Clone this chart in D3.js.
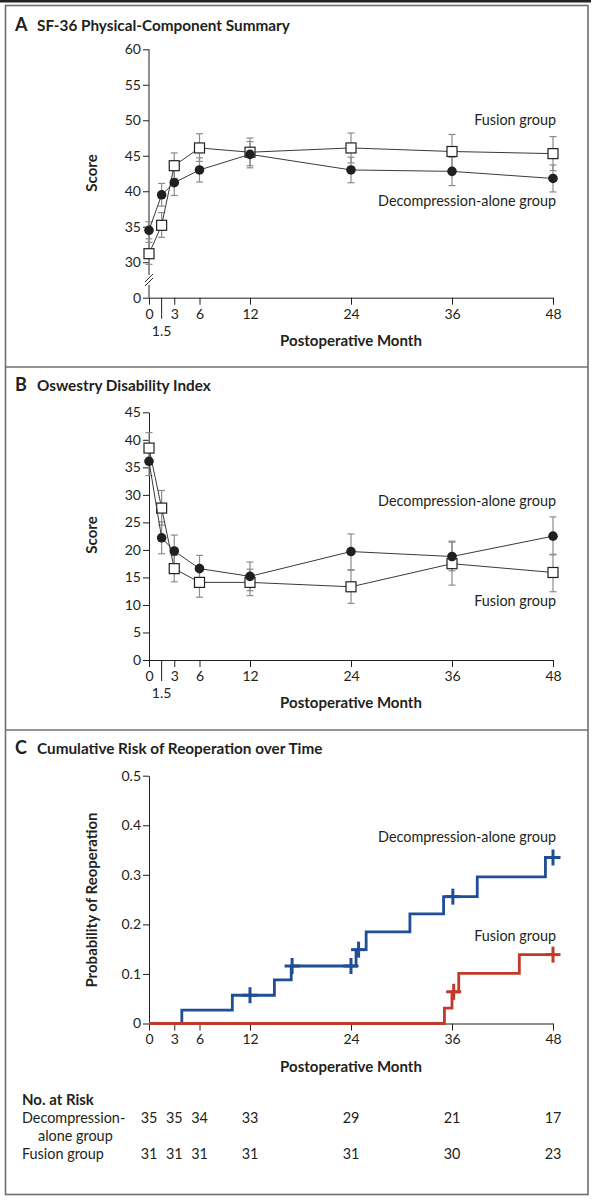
<!DOCTYPE html>
<html>
<head>
<meta charset="utf-8">
<script src="https://cdn.jsdelivr.net/npm/d3@7/dist/d3.min.js"></script>
<style>
    body { margin: 0; background: #fff; }
    text { font-family: Lato, "Liberation Sans", sans-serif; fill: #231f20; }
</style>
</head>
<body>
<div id="chart-area"></div>
<script>
// visit months shared by panels A and B
var months = [0, 1.5, 3, 6, 12, 24, 36, 48];
var monthTicks = [0, 3, 6, 12, 24, 36, 48];

// Panel A: SF-36 physical-component summary (mean with error bar ends)
var sfDecompMean = [34.5, 39.5, 41.2, 43.0, 45.2, 43.0, 42.8, 41.8];
var sfDecompLow = [33.3, 37.9, 39.4, 41.3, 43.3, 41.2, 40.8, 39.9];
var sfDecompHigh = [35.7, 41.1, 43.0, 44.7, 47.0, 44.8, 44.8, 43.7];
var sfFusionMean = [31.2, 35.2, 43.6, 46.1, 45.5, 46.1, 45.6, 45.3];
var sfFusionLow = [29.7, 33.5, 41.8, 44.2, 43.6, 44.0, 43.2, 42.9];
var sfFusionHigh = [32.8, 37.0, 45.4, 48.1, 47.5, 48.2, 48.0, 47.7];
var sfTicks = [25, 30, 35, 40, 45, 50, 55, 60]; // 25 sits below the break and reads "0"

// Panel B: Oswestry disability index
var odiDecompMean = [36.1, 22.2, 19.8, 16.6, 15.2, 19.7, 18.8, 22.5];
var odiDecompLow = [33.5, 19.3, 17.0, 14.1, 12.6, 16.4, 16.2, 19.1];
var odiDecompHigh = [38.6, 25.1, 22.7, 19.0, 17.8, 22.9, 21.6, 26.0];
var odiFusionMean = [38.5, 27.6, 16.6, 14.1, 14.1, 13.3, 17.5, 15.9];
var odiFusionLow = [35.7, 24.5, 14.2, 11.4, 11.7, 10.3, 13.6, 12.4];
var odiFusionHigh = [41.3, 30.8, 19.0, 16.9, 16.5, 16.3, 21.4, 19.2];
var odiTicks = [0, 5, 10, 15, 20, 25, 30, 35, 40, 45];

// Panel C: cumulative risk of reoperation (step starts)
var kmDecompTime = [0, 3.9, 9.9, 14.9, 16.9, 24.6, 25.8, 31.0, 35.0, 39.0, 47.1, 48];
var kmDecompRisk = [0, 0.027, 0.057, 0.088, 0.116, 0.149, 0.185, 0.221, 0.256, 0.296, 0.335, 0.335];
var kmDecompCensor = [12, 17, 24, 24.9, 36.1, 48];
var kmFusionTime = [0, 35.1, 36.0, 36.8, 44.0, 48];
var kmFusionRisk = [0, 0.031, 0.064, 0.101, 0.139, 0.139];
var kmFusionCensor = [36.2, 48];
var kmTicks = [0, 0.1, 0.2, 0.3, 0.4, 0.5];

// number at risk table
var riskMonths = [0, 3, 6, 12, 24, 36, 48];
var riskDecomp = [35, 35, 34, 33, 29, 21, 17];
var riskFusion = [31, 31, 31, 31, 31, 30, 23];

var blue = "#1f4e96";
var red = "#c3392a";
var tickFont = 14;
var labelFont = 14.4;

var chart = d3.select("#chart-area")
    .append("svg")
    .attr("width", 600)
    .attr("height", 1201);

chart.append("rect")
    .attr("width", 600)
    .attr("height", 1201)
    .attr("fill", "#fff");

// frame and panel separators
chart.append("line")
    .attr("x1", 0).attr("x2", 591)
    .attr("y1", 1.2).attr("y2", 1.2)
    .attr("stroke", "#222").attr("stroke-width", 2.5);
chart.append("rect")
    .attr("x", 5.5).attr("y", 5.5)
    .attr("width", 582.5).attr("height", 1189)
    .attr("fill", "none")
    .attr("stroke", "#6f6f6f")
    .attr("stroke-width", 1.6);
[367, 730].forEach(function (y) {
    chart.append("line")
        .attr("x1", 5).attr("x2", 588)
        .attr("y1", y).attr("y2", y)
        .attr("stroke", "#6f6f6f")
        .attr("stroke-width", 1.6);
});

var x = d3.scaleLinear().domain([0, 48]).range([149, 553]);

function addTitle(letter, title, y) {
    chart.append("text")
        .attr("x", 15).attr("y", y)
        .attr("font-size", 18).attr("font-weight", "bold")
        .text(letter);
    chart.append("text")
        .attr("x", 37).attr("y", y)
        .attr("font-size", 15.3).attr("font-weight", "bold")
        .text(title);
}

function styleAxis(g) {
    g.selectAll("line").attr("stroke", "#231f20");
    g.selectAll("path").attr("stroke", "#231f20");
    g.selectAll("text")
        .attr("font-size", tickFont)
        .attr("font-family", "Lato, 'Liberation Sans', sans-serif")
        .attr("fill", "#231f20");
}

function drawXAxis(axisY, withHalf) {
    var g = chart.append("g")
        .attr("transform", "translate(0," + axisY + ")")
        .call(d3.axisBottom(x).tickValues(monthTicks).tickSize(7).tickSizeOuter(0).tickPadding(4));
    styleAxis(g);
    if (withHalf) {
        // the 1.5-month visit has a long tick with its label below the others
        g.append("line")
            .attr("x1", x(1.5)).attr("x2", x(1.5))
            .attr("y1", 0).attr("y2", 21)
            .attr("stroke", "#231f20");
        g.append("text")
            .attr("x", x(1.5)).attr("y", 38)
            .attr("text-anchor", "middle")
            .attr("font-size", tickFont)
            .text("1.5");
    }
    chart.append("text")
        .attr("x", x(24)).attr("y", axisY + 48)
        .attr("text-anchor", "middle")
        .attr("font-size", 15).attr("font-weight", "bold")
        .text("Postoperative Month");
}

function drawYTitle(label, cy) {
    chart.append("text")
        .attr("transform", "translate(97," + cy + ") rotate(-90)")
        .attr("text-anchor", "middle")
        .attr("font-size", 15).attr("font-weight", "bold")
        .text(label);
}

function drawErrorBars(y, lows, highs) {
    var g = chart.append("g");
    months.forEach(function (m, i) {
        g.append("line")
            .attr("x1", x(m)).attr("x2", x(m))
            .attr("y1", y(lows[i])).attr("y2", y(highs[i]))
            .attr("stroke", "#8c8c8c").attr("stroke-width", 1.2);
        [lows[i], highs[i]].forEach(function (v) {
            g.append("line")
                .attr("x1", x(m) - 3.5).attr("x2", x(m) + 3.5)
                .attr("y1", y(v)).attr("y2", y(v))
                .attr("stroke", "#8c8c8c").attr("stroke-width", 1.2);
        });
    });
}

function drawLineAndMarkers(y, means, shape) {
    var line = d3.line()
        .x(function (d, i) { return x(months[i]); })
        .y(function (d) { return y(d); });
    chart.append("path")
        .attr("d", line(means))
        .attr("fill", "none")
        .attr("stroke", "#3a3a3a")
        .attr("stroke-width", 1);
    var g = chart.append("g");
    if (shape === "square") {
        g.selectAll("rect")
            .data(means)
            .enter().append("rect")
            .attr("x", function (d, i) { return x(months[i]) - 5; })
            .attr("y", function (d) { return y(d) - 5; })
            .attr("width", 10).attr("height", 10)
            .attr("fill", "#fff")
            .attr("stroke", "#231f20")
            .attr("stroke-width", 1.2);
    } else {
        g.selectAll("circle")
            .data(means)
            .enter().append("circle")
            .attr("cx", function (d, i) { return x(months[i]); })
            .attr("cy", function (d) { return y(d); })
            .attr("r", 4.8)
            .attr("fill", "#231f20");
    }
}

function groupLabel(text, baseline) {
    chart.append("text")
        .attr("x", 556).attr("y", baseline)
        .attr("text-anchor", "end")
        .attr("font-size", labelFont)
        .text(text);
}

// ---------- Panel A ----------
addTitle("A", "SF-36 Physical-Component Summary", 31);
var yA = d3.scaleLinear().domain([25, 60]).range([297.7, 49.3]);
var axisA = chart.append("g")
    .attr("transform", "translate(149,0)")
    .call(d3.axisLeft(yA).tickValues(sfTicks).tickSize(6).tickPadding(2)
        .tickFormat(function (d) { return d === 25 ? "0" : d; }));
axisA.select(".domain").remove();
styleAxis(axisA);
// axis line with a break between 30 and 0
axisA.append("line")
    .attr("x1", 0).attr("x2", 0)
    .attr("y1", yA(60)).attr("y2", yA(28.2))
    .attr("stroke", "#231f20");
axisA.append("line")
    .attr("x1", 0).attr("x2", 0)
    .attr("y1", yA(26.8)).attr("y2", yA(25))
    .attr("stroke", "#231f20");
[-2, 2].forEach(function (dy) {
    axisA.append("line")
        .attr("x1", -4).attr("x2", 4)
        .attr("y1", yA(27.5) + dy + 4).attr("y2", yA(27.5) + dy - 4)
        .attr("stroke", "#231f20");
});
drawXAxis(297.7, true);
drawYTitle("Score", 173);
drawErrorBars(yA, sfDecompLow, sfDecompHigh);
drawErrorBars(yA, sfFusionLow, sfFusionHigh);
drawLineAndMarkers(yA, sfFusionMean, "square");
drawLineAndMarkers(yA, sfDecompMean, "circle");
groupLabel("Fusion group", 125);
groupLabel("Decompression-alone group", 206);

// ---------- Panel B ----------
addTitle("B", "Oswestry Disability Index", 391);
var yB = d3.scaleLinear().domain([0, 45]).range([660, 412.3]);
var axisB = chart.append("g")
    .attr("transform", "translate(149,0)")
    .call(d3.axisLeft(yB).tickValues(odiTicks).tickSize(6).tickSizeOuter(0).tickPadding(2));
styleAxis(axisB);
drawXAxis(660, true);
drawYTitle("Score", 535);
drawErrorBars(yB, odiDecompLow, odiDecompHigh);
drawErrorBars(yB, odiFusionLow, odiFusionHigh);
drawLineAndMarkers(yB, odiFusionMean, "square");
drawLineAndMarkers(yB, odiDecompMean, "circle");
groupLabel("Decompression-alone group", 506);
groupLabel("Fusion group", 606);

// ---------- Panel C ----------
addTitle("C", "Cumulative Risk of Reoperation over Time", 754);
var yC = d3.scaleLinear().domain([0, 0.5]).range([1023.5, 775.7]);
var axisC = chart.append("g")
    .attr("transform", "translate(149,0)")
    .call(d3.axisLeft(yC).tickValues(kmTicks).tickSize(6).tickSizeOuter(0).tickPadding(2)
        .tickFormat(function (d) { return d === 0 ? "0" : d3.format(".1f")(d); }));
styleAxis(axisC);
drawXAxis(1023.5, false);
drawYTitle("Probability of Reoperation", 900);

function stepValue(times, risks, t) {
    var i = d3.bisectRight(times, t) - 1;
    return risks[Math.max(i, 0)];
}

function drawKM(times, risks, censors, color) {
    var step = d3.line()
        .curve(d3.curveStepAfter)
        .x(function (d, i) { return x(times[i]); })
        .y(function (d) { return yC(d); });
    chart.append("path")
        .attr("d", step(risks))
        .attr("fill", "none")
        .attr("stroke", color)
        .attr("stroke-width", 2.8);
    var g = chart.append("g");
    censors.forEach(function (t) {
        var cx = x(t);
        var cy = yC(stepValue(times, risks, t));
        g.append("line")
            .attr("x1", cx - 7.5).attr("x2", cx + 7.5)
            .attr("y1", cy).attr("y2", cy)
            .attr("stroke", color).attr("stroke-width", 3);
        g.append("line")
            .attr("x1", cx).attr("x2", cx)
            .attr("y1", cy - 8).attr("y2", cy + 8)
            .attr("stroke", color).attr("stroke-width", 3);
    });
}

drawKM(kmDecompTime, kmDecompRisk, kmDecompCensor, blue);
drawKM(kmFusionTime, kmFusionRisk, kmFusionCensor, red);
groupLabel("Decompression-alone group", 842);
groupLabel("Fusion group", 941);

// number at risk
chart.append("text")
    .attr("x", 22).attr("y", 1105)
    .attr("font-size", 15).attr("font-weight", "bold")
    .text("No. at Risk");
var riskRows = [
    { label: ["Decompression-", "alone group"], values: riskDecomp, y: 1123 },
    { label: ["Fusion group"], values: riskFusion, y: 1159 }
];
riskRows.forEach(function (row) {
    row.label.forEach(function (part, i) {
        chart.append("text")
            .attr("x", i === 0 ? 22 : 38)
            .attr("y", row.y + i * 18)
            .attr("font-size", labelFont)
            .text(part);
    });
    chart.append("g").selectAll("text")
        .data(row.values)
        .enter().append("text")
        .attr("x", function (d, i) { return x(riskMonths[i]); })
        .attr("y", row.y)
        .attr("text-anchor", "middle")
        .attr("font-size", labelFont)
        .text(function (d) { return d; });
});
</script>
</body>
</html>
